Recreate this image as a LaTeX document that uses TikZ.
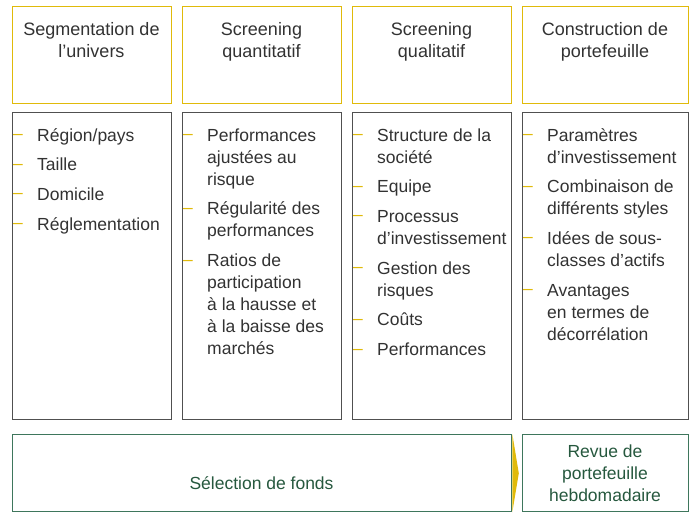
\documentclass[tikz,border=0pt]{standalone}
\usepackage{fontspec}
\setmainfont{Liberation Sans}
\definecolor{yel}{RGB}{224,186,10}
\definecolor{gbox}{RGB}{80,80,80}
\definecolor{grn}{RGB}{62,118,92}
\definecolor{grntxt}{RGB}{38,88,62}
\definecolor{txt}{RGB}{50,50,50}
\newcommand{\listitem}[4]{%
  \node[dashmark] (#1d) at (#2-24,#3-1.5) {–};
  \node[itemtext] (#1) at (#2,#3) {\begin{tabular}[t]{@{}l@{}}#4\end{tabular}};}
\begin{document}
\begin{tikzpicture}[x=1pt,y=-1pt,
  headbox/.style={draw=yel,line width=1.4pt,anchor=north west,minimum height=97pt,inner sep=0pt},
  listbox/.style={draw=gbox,line width=1.1pt,anchor=north west,minimum height=307pt,inner sep=0pt},
  greenbox/.style={draw=grn,line width=1.3pt,anchor=north west,minimum height=77pt,inner sep=0pt},
  htext/.style={anchor=base,inner sep=0pt,text=txt,font=\fontsize{18}{22}\selectfont},
  gtext/.style={anchor=base,inner sep=0pt,text=grntxt,font=\fontsize{17.5}{22}\selectfont},
  itemtext/.style={anchor=base west,inner sep=0pt,text=txt,font=\fontsize{17.5}{22}\selectfont},
  dashmark/.style={anchor=base west,inner sep=0pt,text=yel,font=\fontsize{17.5}{22}\selectfont},
]
\useasboundingbox (0,0) rectangle (693,512);
% header boxes
\node[headbox,minimum width=159pt] (h1) at (12,6) {};
\node[headbox,minimum width=159pt] (h2) at (182,6) {};
\node[headbox,minimum width=159pt] (h3) at (352,6) {};
\node[headbox,minimum width=166pt] (h4) at (522,6) {};
\node[htext] (h1t) at (91.5,35) {\begin{tabular}[t]{@{}c@{}}Segmentation de\\l’univers\end{tabular}};
\node[htext] (h2t) at (261.5,35) {\begin{tabular}[t]{@{}c@{}}Screening\\quantitatif\end{tabular}};
\node[htext] (h3t) at (431.5,35) {\begin{tabular}[t]{@{}c@{}}Screening\\qualitatif\end{tabular}};
\node[htext] (h4t) at (605,35) {\begin{tabular}[t]{@{}c@{}}Construction de\\portefeuille\end{tabular}};
% list boxes
\node[listbox,minimum width=159pt] (m1) at (12,112) {};
\node[listbox,minimum width=159pt] (m2) at (182,112) {};
\node[listbox,minimum width=159pt] (m3) at (352,112) {};
\node[listbox,minimum width=166pt] (m4) at (522,112) {};
% column 1
\listitem{a1}{37}{141}{Région/pays}
\listitem{a2}{37}{170.7}{Taille}
\listitem{a3}{37}{200.4}{Domicile}
\listitem{a4}{37}{230.1}{Réglementation}
% column 2
\listitem{b1}{207}{141}{Performances\\ajustées au\\risque}
\listitem{b2}{207}{214.7}{Régularité des\\performances}
\listitem{b3}{207}{266.8}{Ratios de\\participation\\à la hausse et\\à la baisse des\\marchés}
% column 3
\listitem{c1}{377}{141}{Structure de la\\société}
\listitem{c2}{377}{192.7}{Equipe}
\listitem{c3}{377}{222.4}{Processus\\d’investissement}
\listitem{c4}{377}{274.1}{Gestion des\\risques}
\listitem{c5}{377}{325.8}{Coûts}
\listitem{c6}{377}{355.5}{Performances}
% column 4
\listitem{e1}{547}{141}{Paramètres\\d’investissement}
\listitem{e2}{547}{192.7}{Combinaison de\\différents styles}
\listitem{e3}{547}{244.4}{Idées de sous-\\classes d’actifs}
\listitem{e4}{547}{296.1}{Avantages\\en termes de\\décorrélation}
% bottom row
\node[greenbox,minimum width=499pt] (sel) at (12,434) {};
\node[greenbox,minimum width=166pt] (rev) at (522,434) {};
\node[gtext] (selt) at (261.5,489) {Sélection de fonds};
\node[gtext] (revt) at (605,457) {\begin{tabular}[t]{@{}c@{}}Revue de\\portefeuille\\hebdomadaire\end{tabular}};
\fill[yel] (sel.north east) -- ([xshift=6.5pt]sel.east) -- (sel.south east) -- cycle;
\end{tikzpicture}
\end{document}
